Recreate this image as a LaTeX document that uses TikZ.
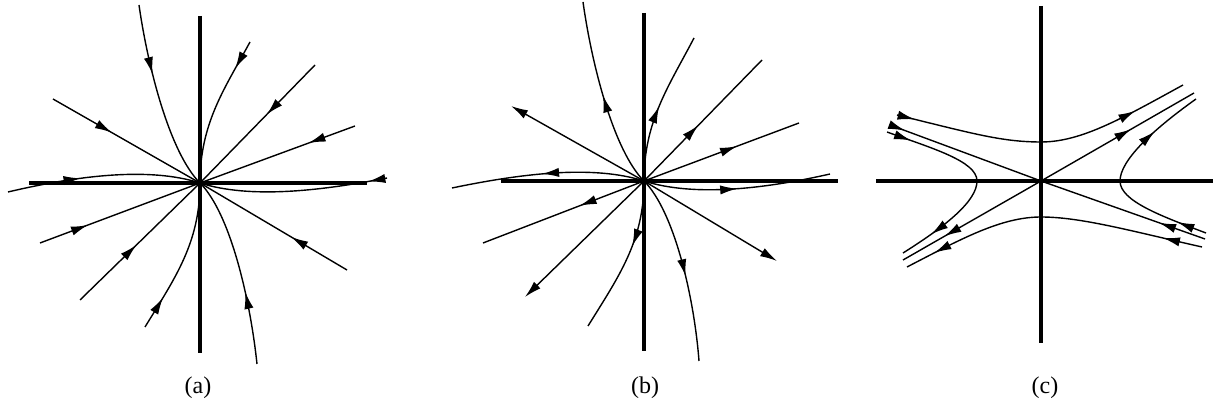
\documentclass[tikz,border=0pt]{standalone}
\usepackage{fontspec}
\setmainfont{Liberation Serif}
\usetikzlibrary{arrows.meta,decorations.markings}

\tikzset{
  osa/.style={line width=2pt},
  traj/.style={line width=0.7pt},
  sipka/.style={postaction={decorate, decoration={markings, mark=at position #1 with {\arrow{>}}}}},
}

\begin{document}
\begin{tikzpicture}[x=0.5pt, y=-0.5pt, >={Latex[length=8.5pt,width=4.6pt]}, font=\fontsize{12}{14}\selectfont]
\useasboundingbox (0,0) rectangle (1220,410);

% (a) stabilni uzel
\begin{scope}[shift={(200,183)}, yscale=-1]
  \coordinate (Oa) at (0,0);
  % Primky
  \draw[traj, sipka=0.42] (115,118) -- (Oa);
  \draw[traj, sipka=0.3] (155,57) -- (Oa);
  \draw[traj, sipka=0.38] (147,-87) -- (Oa);
  \draw[traj, sipka=0.4] (-147,84) -- (Oa);
  \draw[traj, sipka=0.3] (-160,-60) -- (Oa);
  \draw[traj, sipka=0.47] (-120,-117) -- (Oa);
  % Krivky
  \draw[traj, sipka=0.37] (-61,178) .. controls (-52,115) and (-30,30) .. (Oa);
  \draw[traj, sipka=0.38] (57,-181) .. controls (50,-115) and (30,-30) .. (Oa);
  \draw[traj, sipka=0.2] (50,141) .. controls (25,95) and (0,60) .. (Oa);
  \draw[traj, sipka=0.22] (-55,-144) .. controls (-25,-95) and (0,-60) .. (Oa);
  \draw[traj, sipka=0.1] (187,5) .. controls (120,-8) and (50,-16) .. (Oa);
  \draw[traj, sipka=0.38] (-192,-9) .. controls (-120,8) and (-50,16) .. (Oa);
  % Osy
  \draw[osa] (-171,0) -- (167,0);
  \draw[osa] (0,167) -- (0,-170);
\end{scope}
\node (lblA) at (198,388) {(a)};

% (b) nestabilni uzel
\begin{scope}[shift={(644,181)}, yscale=-1]
  \coordinate (Ob) at (0,0);
  % Primky
  \draw[traj, sipka=0.46] (Ob) -- (118,121);
  \draw[traj, sipka=0.6] (Ob) -- (155,58);
  \draw[traj, ->] (Ob) -- (133,-80);
  \draw[traj, ->] (Ob) -- (-119,-116);
  \draw[traj, sipka=0.4] (Ob) -- (-161,-62);
  \draw[traj, ->] (Ob) -- (-133,75);
  % Krivky
  \draw[traj, sipka=0.5] (Ob) .. controls (-30,30) and (-52,115) .. (-61,179);
  \draw[traj, sipka=0.5] (Ob) .. controls (0,60) and (25,95) .. (50,143);
  \draw[traj, sipka=0.5] (Ob) .. controls (50,-16) and (120,-8) .. (186,7);
  \draw[traj, sipka=0.55] (Ob) .. controls (30,-30) and (50,-115) .. (55,-180);
  \draw[traj, sipka=0.42] (Ob) .. controls (0,-60) and (-25,-95) .. (-56,-145);
  \draw[traj, sipka=0.53] (Ob) .. controls (-50,16) and (-120,8) .. (-192,-7);
  % Osy
  \draw[osa] (-143,0) -- (194,0);
  \draw[osa] (0,168) -- (0,-170);
\end{scope}
\node (lblB) at (645,388) {(b)};

% (c) sedlo
\begin{scope}[shift={(1041,181)}, yscale=-1]
  \coordinate (Oc) at (0,0);
  % Separatrisy
  \draw[traj, sipka=0.1] (-151,56) -- (Oc);
  \draw[traj, sipka=0.28] (164,-58) -- (Oc);
  \draw[traj, sipka=0.59] (Oc) -- (153,88);
  \draw[traj, sipka=0.7] (Oc) -- (-138,-79);
  % Hyperboly
  \draw[traj, sipka=0.06, sipka=0.82] (-144,66) .. controls (-70,48) and (-40,39) .. (0,39)
    .. controls (40,39) and (80,62) .. (142,96);
  \draw[traj, sipka=0.13, sipka=0.9] (161,-66) .. controls (90,-50) and (40,-36) .. (0,-36)
    .. controls (-40,-36) and (-80,-58) .. (-134,-86);
  \draw[traj, sipka=0.12, sipka=0.84] (-154,49) .. controls (-110,33) and (-64,20) .. (-64,0)
    .. controls (-64,-20) and (-95,-45) .. (-138,-72);
  \draw[traj, sipka=0.14, sipka=0.76] (165,-52) .. controls (120,-35) and (79,-20) .. (79,0)
    .. controls (79,20) and (110,50) .. (155,82);
  % Osy
  \draw[osa] (-165,0) -- (172,0);
  \draw[osa] (0,175) -- (0,-162);
\end{scope}
\node (lblC) at (1045,388) {(c)};

\end{tikzpicture}
\end{document}
